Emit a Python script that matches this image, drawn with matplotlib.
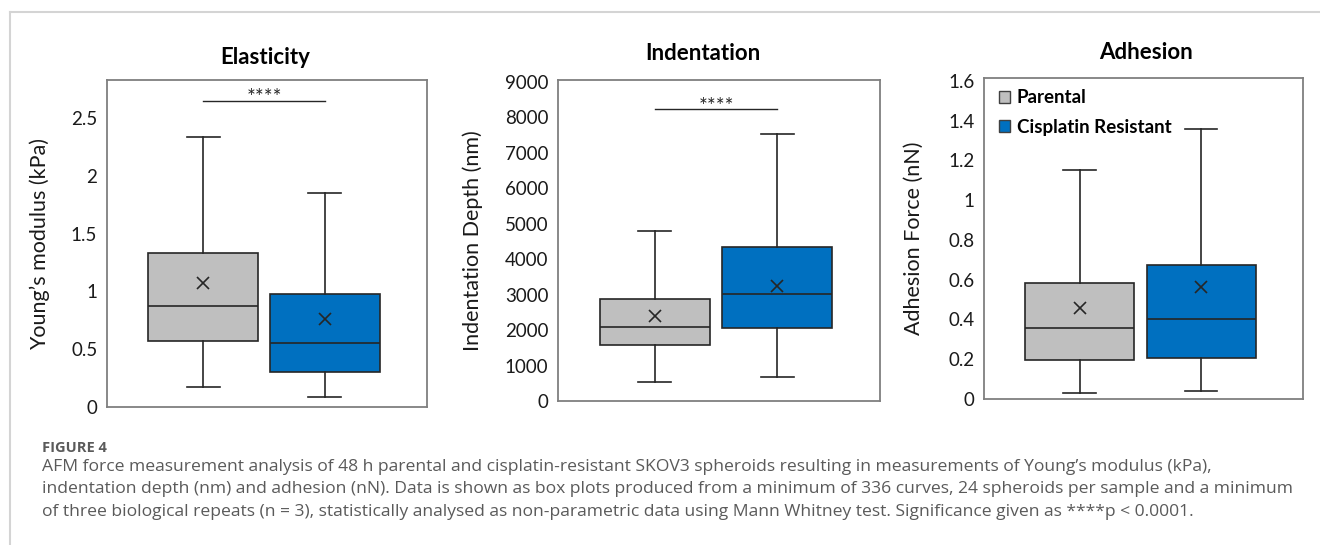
'''AFM box plots: elasticity, indentation and adhesion of SKOV3 spheroids'''

import matplotlib
matplotlib.use('Agg')
import matplotlib.pyplot as plt
from matplotlib.patches import Patch
from matplotlib.lines import Line2D

# Data (parental, cisplatin resistant)

groups = ['Parental', 'Cisplatin Resistant']
colours = ['#bfbfbf', '#0070c0']

titles = ['Elasticity', 'Indentation', 'Adhesion']
ylabels = ['Young\u2019s modulus (kPa)', 'Indentation Depth (nm)', 'Adhesion Force (nN)']

elast_lo = [0.17, 0.09]
elast_q1 = [0.57, 0.305]
elast_med = [0.87, 0.555]
elast_q3 = [1.33, 0.98]
elast_hi = [2.34, 1.85]
elast_mean = [1.07, 0.76]

indent_lo = [527, 685]
indent_q1 = [1569, 2048]
indent_med = [2076, 3023]
indent_q3 = [2865, 4330]
indent_hi = [4797, 7530]
indent_mean = [2394, 3248]

adh_lo = [0.028, 0.04]
adh_q1 = [0.194, 0.208]
adh_med = [0.357, 0.404]
adh_q3 = [0.583, 0.673]
adh_hi = [1.15, 1.358]
adh_mean = [0.456, 0.564]

yticks_1 = [0, 0.5, 1, 1.5, 2, 2.5]
ytick_labels_1 = ['0', '0.5', '1', '1.5', '2', '2.5']
yticks_2 = [0, 1000, 2000, 3000, 4000, 5000, 6000, 7000, 8000, 9000]
ytick_labels_2 = [str(v) for v in yticks_2]
yticks_3 = [0, 0.2, 0.4, 0.6, 0.8, 1.0, 1.2, 1.4, 1.6]
ytick_labels_3 = ['0', '0.2', '0.4', '0.6', '0.8', '1', '1.2', '1.4', '1.6']

sig_1 = 2.65
sig_2 = 8230

caption_head = 'FIGURE 4'
caption_lines = [
    'AFM force measurement analysis of 48 h parental and cisplatin-resistant SKOV3 spheroids resulting in measurements of Young\u2019s modulus (kPa),',
    'indentation depth (nm) and adhesion (nN). Data is shown as box plots produced from a minimum of 336 curves, 24 spheroids per sample and a minimum',
    'of three biological repeats (n = 3), statistically analysed as non-parametric data using Mann Whitney test. Significance given as ****p < 0.0001.',
]

# Styling

plt.rcParams['font.family'] = ['Lato', 'DejaVu Sans']
dark = '#262626'
spine_col = '#7f7f7f'


def make_stats(lo, q1, med, q3, hi, mean):
    '''Builds the stats list that bxp wants'''
    out = []
    for i in range(len(lo)):
        out.append({'whislo': lo[i], 'q1': q1[i], 'med': med[i], 'q3': q3[i],
                    'whishi': hi[i], 'mean': mean[i], 'fliers': []})
    return out


def draw_panel(ax, stats, ylim, yticks, ylabels_, ylabel, title, title_xy, label_x):
    bp = ax.bxp(stats, positions=[1, 2], widths=0.9, showmeans=True,
                patch_artist=True, showfliers=False,
                boxprops=dict(edgecolor=dark, linewidth=1.2),
                medianprops=dict(color=dark, linewidth=1.2),
                whiskerprops=dict(color=dark, linewidth=1.2),
                capprops=dict(color=dark, linewidth=1.2),
                capwidths=0.27,
                meanprops=dict(marker='x', markeredgecolor=dark, markersize=9,
                               markeredgewidth=1.2))
    for box, c in zip(bp['boxes'], colours):
        box.set_facecolor(c)
    ax.set_xlim(0.21, 2.84)
    ax.set_ylim(*ylim)
    ax.set_xticks([])
    ax.set_yticks(yticks)
    ax.set_yticklabels(ylabels_)
    ax.tick_params(axis='y', length=0, pad=7, labelsize=13.5, labelcolor='#1a1a1a')
    for s in ax.spines.values():
        s.set_color(spine_col)
        s.set_linewidth(1.3)
    ax.set_ylabel(ylabel, fontsize=15.5, color='#1a1a1a')
    ax.yaxis.set_label_coords(label_x, 0.5)
    ax.text(title_xy[0], title_xy[1], title, transform=ax.transAxes,
            ha='center', va='center', fontsize=16, fontweight='bold')


def sig_bar(ax, y):
    ax.plot([1, 2], [y, y], color=dark, lw=1)
    ax.annotate('****', xy=(1.5, y), xytext=(0, -5.5), textcoords='offset points',
                ha='center', va='bottom', fontsize=15, color=dark)


fig = plt.figure(figsize=(13.2, 5.45), dpi=100)

ax1 = fig.add_axes([107 / 1320, 1 - 407 / 545, 320 / 1320, 327 / 545])
ax2 = fig.add_axes([558 / 1320, 1 - 401 / 545, 322 / 1320, 321 / 545])
ax3 = fig.add_axes([984 / 1320, 1 - 399 / 545, 319 / 1320, 321 / 545])

draw_panel(ax1, make_stats(elast_lo, elast_q1, elast_med, elast_q3, elast_hi, elast_mean),
           (0, 2.83), yticks_1, ytick_labels_1, ylabels[0], titles[0], (0.494, 1.07), -0.178)
draw_panel(ax2, make_stats(indent_lo, indent_q1, indent_med, indent_q3, indent_hi, indent_mean),
           (0, 9050), yticks_2, ytick_labels_2, ylabels[1], titles[1], (0.45, 1.084), -0.233)
draw_panel(ax3, make_stats(adh_lo, adh_q1, adh_med, adh_q3, adh_hi, adh_mean),
           (0, 1.615), yticks_3, ytick_labels_3, ylabels[2], titles[2], (0.508, 1.078), -0.188)

# Significance bars
sig_bar(ax1, sig_1)
sig_bar(ax2, sig_2)

# Legend
handles = [Patch(facecolor=c, edgecolor='#404040', linewidth=1) for c in colours]
leg = ax3.legend(handles, groups, loc='upper left', bbox_to_anchor=(0.047, 0.965),
                 frameon=False, borderpad=0, borderaxespad=0, handlelength=0.6,
                 handleheight=0.6, handletextpad=0.35, labelspacing=0.68,
                 prop={'weight': 'bold', 'size': 13.5})

# Card border
fig.add_artist(Line2D([10 / 1320, 1], [1 - 12 / 545, 1 - 12 / 545], color='#d4d4d4', lw=1.5))
fig.add_artist(Line2D([10 / 1320, 10 / 1320], [0, 1 - 12 / 545], color='#d4d4d4', lw=1.5))

# Caption
cap_font = ['Open Sans', 'DejaVu Sans']
fig.text(42 / 1320, 1 - 448 / 545, caption_head, fontsize=10.5, fontweight='bold',
         color='#5a5a5a', va='center', family=cap_font)
for i, line in enumerate(caption_lines):
    fig.text(42 / 1320, 1 - (467 + 22.3 * i) / 545, line, fontsize=12.6,
             color='#5a5a5a', va='center', family=cap_font)

fig.savefig('out.png', dpi=100)
